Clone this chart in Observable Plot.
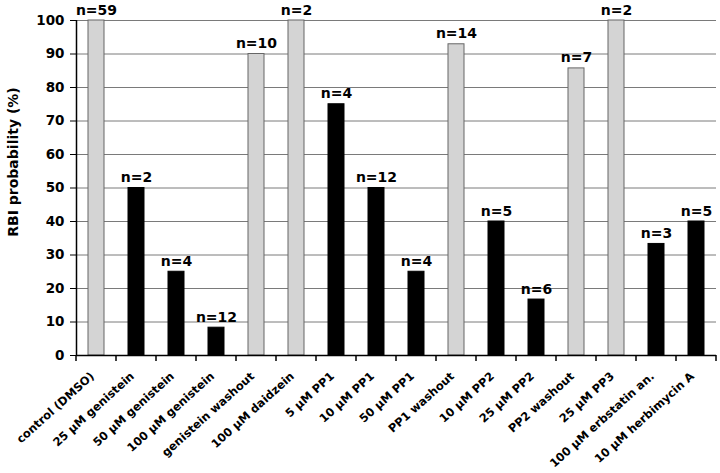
<!DOCTYPE html>
<html>
<head>
<meta charset="utf-8">
<script src="https://cdn.jsdelivr.net/npm/d3@7"></script>
<script src="https://cdn.jsdelivr.net/npm/@observablehq/plot@0.6"></script>
<style>
  html, body { margin: 0; padding: 0; background: #fff; }
  #chart svg { display: block; }
</style>
</head>
<body>
<div id="chart"></div>
<script>
// Conditions (x categories)
const categories = [
  "control (DMSO)",
  "25 μM genistein",
  "50 μM genistein",
  "100 μM genistein",
  "genistein washout",
  "100 μM daidzein",
  "5 μM PP1",
  "10 μM PP1",
  "50 μM PP1",
  "PP1 washout",
  "10 μM PP2",
  "25 μM PP2",
  "PP2 washout",
  "25 μM PP3",
  "100 μM erbstatin an.",
  "10 μM herbimycin A"
];
// RBI probability (%)
const probability = [100, 50, 25, 8.3, 90, 100, 75, 50, 25, 92.9, 40, 16.7, 85.7, 100, 33.3, 40];
// number of observations
const nObs = [59, 2, 4, 12, 10, 2, 4, 12, 4, 14, 5, 6, 7, 2, 3, 5];
// condition group: control / washout / inactive analog vs. active inhibitor
const group = ["control", "inhibitor", "inhibitor", "inhibitor", "control", "control",
  "inhibitor", "inhibitor", "inhibitor", "control", "inhibitor", "inhibitor",
  "control", "control", "inhibitor", "inhibitor"];
const yTicks = [0, 10, 20, 30, 40, 50, 60, 70, 80, 90, 100];
const yLabel = "RBI probability (%)";

const data = categories.map((c, i) => ({cat: c, value: probability[i], n: nObs[i], group: group[i]}));

const FONT = "DejaVu Sans, Liberation Sans, sans-serif";

const plot = Plot.plot({
  width: 720,
  height: 473,
  marginTop: 20,
  marginBottom: 118,
  marginLeft: 76,
  marginRight: 4,
  style: {fontFamily: FONT, background: "#fff", color: "#000"},
  x: {domain: categories, paddingInner: 0.6, paddingOuter: 0.3, label: null},
  y: {domain: [0, 100], label: null},
  marks: [
    Plot.gridY(yTicks.filter(d => d > 0), {stroke: "#7a7a7a", strokeOpacity: 1, strokeWidth: 1}),
    Plot.barY(data.filter(d => d.group === "control"), {x: "cat", y: "value", fill: "#d4d4d4", stroke: "#666", strokeWidth: 1}),
    Plot.barY(data.filter(d => d.group === "inhibitor"), {x: "cat", y: "value", fill: "#000", stroke: "#000"}),
    Plot.axisY({ticks: yTicks, tickSize: 6, tickPadding: 6, fontSize: 13.5, fontWeight: "bold", stroke: "#000", label: null}),
    Plot.ruleX([0], {x: () => categories[0], dx: -20, y1: 0, y2: 100, stroke: "#000", strokeWidth: 1.5}),
    Plot.ruleY([0], {stroke: "#000", strokeWidth: 1.5}),
    Plot.axisX({tickSize: 0, tickRotate: -42, tickPadding: 19, dx: -4, fontSize: 11.5, fontWeight: "bold", label: null}),
    Plot.text(data, {x: "cat", y: "value", text: d => "n=" + d.n, dy: -6, lineAnchor: "bottom", fontSize: 14, fontWeight: "bold"}),
    Plot.text([yLabel], {text: d => d, frameAnchor: "left", textAnchor: "middle", rotate: -90, dx: -63, dy: -26, fontSize: 14, fontWeight: "bold", fill: "#000"})
  ]
});

// category boundary ticks on the x axis, derived from the x scale
const xs = plot.scale("x");
const ys = plot.scale("y");
const step = xs.step;
const y0 = ys.apply(0);
const bounds = categories.map(c => xs.apply(c) + xs.bandwidth / 2 - step / 2);
bounds.push(xs.apply(categories[categories.length - 1]) + xs.bandwidth / 2 + step / 2);
const g = d3.select(plot).append("g").attr("stroke", "#000").attr("stroke-width", 1.5);
bounds.forEach(bx => {
  g.append("line").attr("x1", bx).attr("x2", bx).attr("y1", y0).attr("y2", y0 + 6);
});

document.getElementById("chart").appendChild(plot);
</script>
</body>
</html>
